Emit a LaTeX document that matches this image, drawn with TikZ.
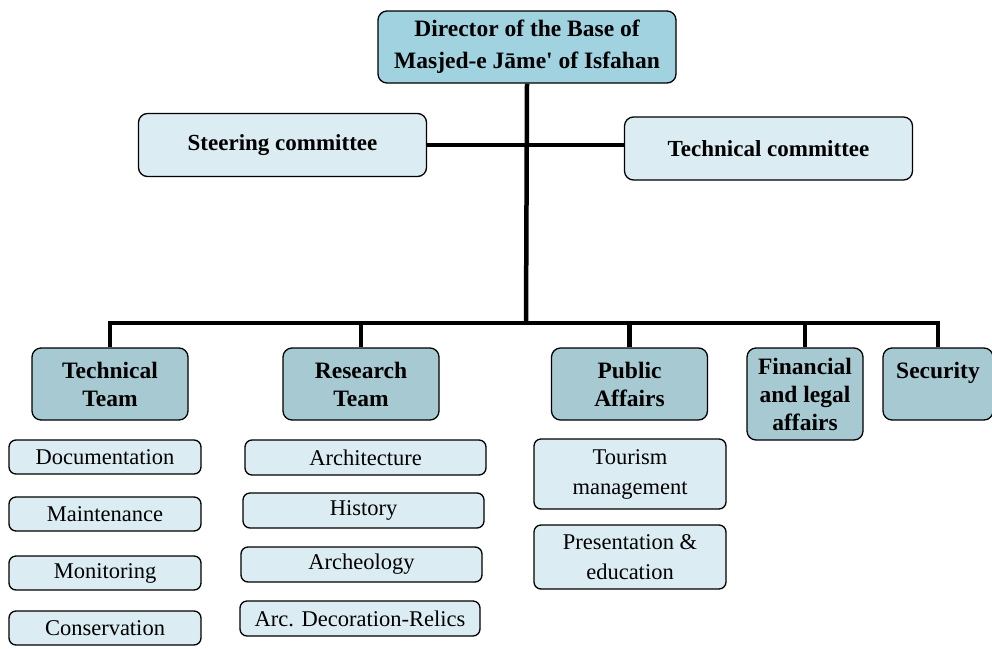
\documentclass[tikz,border=0pt]{standalone}
\usepackage{fontspec}
\setmainfont{Liberation Serif}
\usetikzlibrary{positioning}

\definecolor{dirblue}{RGB}{160,210,224}
\definecolor{teamblue}{RGB}{166,201,210}
\definecolor{paleblue}{RGB}{219,237,243}

\begin{document}
\begin{tikzpicture}[
    x=1pt, y=-1pt,
    box/.style={draw, line width=1.3pt, rounded corners=9pt, align=center, inner sep=0pt},
    director/.style={box, fill=dirblue, minimum width=298pt, minimum height=72pt,
        font=\fontsize{23.5}{32}\selectfont\bfseries},
    committee/.style={box, fill=paleblue, minimum width=288pt, minimum height=63pt,
        font=\fontsize{23}{28}\selectfont\bfseries},
    team/.style={box, fill=teamblue, minimum width=156pt, minimum height=72pt,
        font=\fontsize{23.5}{28}\selectfont\bfseries},
    unit/.style={box, rounded corners=7pt, fill=paleblue, minimum height=34pt,
        font=\fontsize{22.5}{30}\selectfont},
    link/.style={line width=4.5pt}
]
\path[use as bounding box, fill=white] (0,0) rectangle (992,648);

% ============ DIRECTOR AND COMMITTEES ============
\node[director] (director) at (527, 47) {Director of the Base of\\Masjed-e Jāme\textquotesingle{} of Isfahan};
\node[committee] (steer) at (282.5, 145) {Steering committee};
\node[committee] (techcom) at (768.5, 148.5) {Technical committee};

% ============ TEAMS ============
\node[team] (techteam) at (110, 384) {Technical\\Team};
\node[team] (research) at (361, 384) {Research\\Team};
\node[team] (public) at (629.5, 384) {Public\\Affairs};
\node[team, minimum width=116pt, minimum height=92pt] (finance) at (805, 394) {Financial\\and legal\\affairs};
\node[team, minimum width=110pt] (security) at (938, 384) {Security\\~};

% ============ UNITS ============
\node[unit, minimum width=192pt] (doc) at (105, 457) {Documentation};
\node[unit, minimum width=192pt] (maint) at (105, 514) {Maintenance};
\node[unit, minimum width=192pt] (monit) at (105, 573) {Monitoring};
\node[unit, minimum width=192pt] (conserv) at (105, 628) {Conservation};

\node[unit, minimum width=241pt, minimum height=35pt] (arch) at (365.5, 457.5) {Architecture};
\node[unit, minimum width=241pt, minimum height=35pt] (hist) at (363.5, 510.5) {History};
\node[unit, minimum width=241pt, minimum height=35pt] (archeo) at (361.5, 564.5) {Archeology};
\node[unit, minimum width=240pt, minimum height=35pt] (arcdec) at (360, 618.5) {Arc. Decoration-Relics};

\node[unit, minimum width=192pt, minimum height=70pt] (tourism) at (630, 474) {Tourism\\management};
\node[unit, minimum width=192pt, minimum height=64pt] (present) at (630, 557) {Presentation \&\\education};

% ============ CONNECTORS ============
\coordinate (bus) at (526, 323);
\draw[link] (director.south) -- (bus);
\draw[link] (steer.east) -- (steer.east -| techcom.west);
\draw[link] (techteam.north) |- (bus) -| (security.north);
\draw[link] (research.north |- bus) -- (research.north);
\draw[link] (public.north |- bus) -- (public.north);
\draw[link] (finance.north |- bus) -- (finance.north);

\end{tikzpicture}
\end{document}
